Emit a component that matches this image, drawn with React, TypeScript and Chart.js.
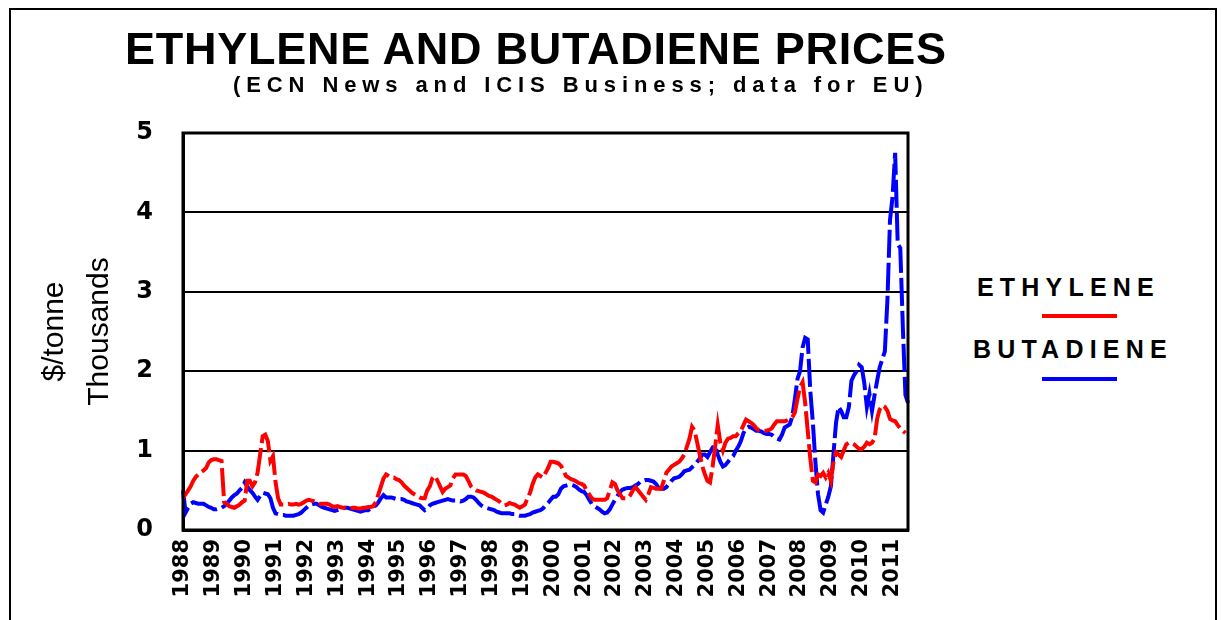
import React, { useEffect, useRef } from 'react';
import { Chart, registerables } from 'chart.js';

Chart.register(...registerables);

// Year tick labels (one per January)
const YEARS = [
  '1988', '1989', '1990', '1991', '1992', '1993', '1994', '1995', '1996', '1997', '1998', '1999',
  '2000', '2001', '2002', '2003', '2004', '2005', '2006', '2007', '2008', '2009', '2010', '2011',
];

// Monthly prices, $/tonne in thousands, Jan 1988 – Jul 2011
const ETHYLENE = [
  0.40, 0.45, 0.50, 0.55, 0.62, 0.67, 0.70, 0.73, 0.75, 0.78, 0.85, 0.88, // 1988
  0.89, 0.89, 0.88, 0.87, 0.35, 0.33, 0.30, 0.29, 0.28, 0.30, 0.32, 0.35, // 1989
  0.37, 0.62, 0.62, 0.55, 0.60, 0.72, 0.95, 1.18, 1.20, 1.12, 0.87, 0.93, // 1990
  0.60, 0.40, 0.32, 0.32, 0.32, 0.33, 0.32, 0.32, 0.33, 0.32, 0.33, 0.35, // 1991
  0.37, 0.38, 0.37, 0.36, 0.34, 0.33, 0.33, 0.33, 0.33, 0.32, 0.30, 0.29, // 1992
  0.30, 0.29, 0.28, 0.28, 0.27, 0.27, 0.28, 0.28, 0.27, 0.27, 0.28, 0.28, // 1993
  0.29, 0.29, 0.30, 0.35, 0.45, 0.55, 0.65, 0.70, 0.68, 0.66, 0.66, 0.64, // 1994
  0.63, 0.60, 0.56, 0.53, 0.50, 0.47, 0.45, 0.43, 0.41, 0.40, 0.40, 0.50, // 1995
  0.55, 0.65, 0.68, 0.62, 0.55, 0.48, 0.52, 0.54, 0.56, 0.65, 0.70, 0.70, // 1996
  0.70, 0.70, 0.68, 0.62, 0.55, 0.52, 0.50, 0.49, 0.48, 0.47, 0.45, 0.43, // 1997
  0.42, 0.40, 0.38, 0.36, 0.33, 0.31, 0.32, 0.34, 0.33, 0.32, 0.30, 0.28, // 1998
  0.30, 0.32, 0.40, 0.47, 0.58, 0.66, 0.70, 0.68, 0.66, 0.72, 0.78, 0.86, // 1999
  0.86, 0.85, 0.84, 0.81, 0.75, 0.68, 0.66, 0.64, 0.63, 0.61, 0.59, 0.58, // 2000
  0.56, 0.50, 0.45, 0.40, 0.38, 0.38, 0.38, 0.38, 0.38, 0.40, 0.50, 0.60, // 2001
  0.58, 0.50, 0.45, 0.40, 0.40, 0.40, 0.44, 0.50, 0.54, 0.50, 0.46, 0.42, // 2002
  0.38, 0.45, 0.54, 0.53, 0.52, 0.52, 0.52, 0.62, 0.72, 0.76, 0.80, 0.82, // 2003
  0.84, 0.86, 0.90, 0.95, 1.05, 1.15, 1.30, 1.25, 1.10, 0.95, 0.80, 0.70, // 2004
  0.62, 0.60, 0.80, 1.05, 1.32, 1.10, 1.00, 1.10, 1.15, 1.16, 1.18, 1.18, // 2005
  1.22, 1.25, 1.32, 1.39, 1.37, 1.35, 1.32, 1.28, 1.26, 1.26, 1.25, 1.25, // 2006
  1.26, 1.28, 1.33, 1.37, 1.37, 1.37, 1.37, 1.38, 1.40, 1.42, 1.48, 1.65, // 2007
  1.80, 1.86, 1.60, 1.25, 0.90, 0.62, 0.60, 0.70, 0.68, 0.72, 0.66, 0.72, // 2008
  0.62, 0.85, 0.98, 0.95, 0.92, 1.00, 1.08, 1.10, 1.10, 1.08, 1.05, 1.02, // 2009
  1.02, 1.05, 1.10, 1.08, 1.10, 1.15, 1.40, 1.52, 1.57, 1.55, 1.50, 1.40, // 2010
  1.38, 1.37, 1.32, 1.28, 1.25, 1.22, null, // 2011
];

const BUTADIENE = [
  0.50, 0.22, 0.28, 0.33, 0.35, 0.34, 0.33, 0.33, 0.33, 0.31, 0.29, 0.28, // 1988
  0.26, 0.26, 0.27, 0.28, 0.30, 0.33, 0.37, 0.41, 0.44, 0.46, 0.50, 0.53, // 1989
  0.60, 0.55, 0.50, 0.47, 0.42, 0.38, 0.43, 0.47, 0.46, 0.45, 0.40, 0.28, // 1990
  0.21, 0.20, 0.19, 0.19, 0.18, 0.18, 0.18, 0.18, 0.19, 0.20, 0.22, 0.25, // 1991
  0.28, 0.31, 0.32, 0.33, 0.33, 0.31, 0.29, 0.28, 0.27, 0.26, 0.25, 0.24, // 1992
  0.25, 0.26, 0.27, 0.28, 0.28, 0.27, 0.26, 0.25, 0.24, 0.23, 0.24, 0.25, // 1993
  0.25, 0.27, 0.29, 0.31, 0.35, 0.40, 0.44, 0.41, 0.41, 0.41, 0.40, 0.39, // 1994
  0.39, 0.39, 0.38, 0.36, 0.35, 0.34, 0.33, 0.32, 0.31, 0.28, 0.25, 0.27, // 1995
  0.31, 0.33, 0.34, 0.35, 0.36, 0.37, 0.38, 0.39, 0.38, 0.37, 0.37, 0.37, // 1996
  0.36, 0.37, 0.39, 0.42, 0.42, 0.41, 0.38, 0.34, 0.31, 0.29, 0.28, 0.27, // 1997
  0.26, 0.25, 0.23, 0.22, 0.21, 0.21, 0.21, 0.21, 0.20, 0.20, 0.19, 0.18, // 1998
  0.18, 0.18, 0.19, 0.20, 0.22, 0.23, 0.24, 0.25, 0.27, 0.31, 0.34, 0.38, // 1999
  0.42, 0.42, 0.45, 0.52, 0.55, 0.56, 0.57, 0.57, 0.56, 0.54, 0.51, 0.49, // 2000
  0.48, 0.44, 0.38, 0.33, 0.30, 0.28, 0.26, 0.23, 0.21, 0.22, 0.26, 0.32, // 2001
  0.38, 0.43, 0.48, 0.51, 0.52, 0.53, 0.53, 0.54, 0.56, 0.58, 0.61, 0.62, // 2002
  0.63, 0.63, 0.62, 0.61, 0.58, 0.53, 0.52, 0.52, 0.54, 0.58, 0.62, 0.65, // 2003
  0.66, 0.67, 0.70, 0.74, 0.75, 0.76, 0.79, 0.82, 0.86, 0.90, 0.95, 0.95, // 2004
  0.92, 0.98, 1.04, 1.06, 0.95, 0.86, 0.80, 0.82, 0.86, 0.90, 0.93, 1.00, // 2005
  1.05, 1.12, 1.22, 1.28, 1.30, 1.29, 1.27, 1.25, 1.25, 1.24, 1.22, 1.21, // 2006
  1.21, 1.20, 1.17, 1.15, 1.14, 1.20, 1.29, 1.31, 1.33, 1.43, 1.65, 1.90, // 2007
  2.00, 2.30, 2.42, 2.40, 1.75, 1.35, 0.85, 0.45, 0.25, 0.22, 0.32, 0.42, // 2008
  0.55, 0.95, 1.35, 1.55, 1.50, 1.42, 1.42, 1.55, 1.88, 1.95, 2.00, 2.08, // 2009
  2.05, 1.85, 1.55, 1.72, 1.50, 1.70, 1.88, 2.05, 2.15, 2.25, 2.90, 3.90, // 2010
  4.20, 4.75, 3.60, 3.55, 2.55, 1.70, 1.60, // 2011
];

const SERIES_NAMES = ['ETHYLENE', 'BUTADIENE'];
const SERIES_COLORS = ['#ff0000', '#0000ff'];
const TITLE = 'ETHYLENE AND BUTADIENE PRICES';
const SUBTITLE = '(ECN News and ICIS Business; data for EU)';
const Y_TITLE = ['$/tonne', 'Thousands'];

const MONTH_LABELS = ETHYLENE.map((_, i) => (i % 12 === 0 ? YEARS[i / 12] : ''));

const framePlugin = {
  id: 'plotFrame',
  afterDatasetsDraw(chart: any) {
    const { ctx, chartArea } = chart;
    const { left, top, right, bottom } = chartArea;
    ctx.save();
    ctx.strokeStyle = '#000';
    ctx.lineWidth = 3;
    ctx.strokeRect(left, top, right - left, bottom - top);
    ctx.restore();
  },
};

const zeroPadding = (scale: any) => {
  scale.paddingLeft = 0;
  scale.paddingRight = 0;
  scale.paddingTop = 0;
  scale.paddingBottom = 0;
};

export default function App() {
  const canvasRef = useRef<HTMLCanvasElement | null>(null);

  useEffect(() => {
    if (!canvasRef.current) return;
    const chart = new Chart(canvasRef.current, {
      type: 'line',
      data: {
        labels: MONTH_LABELS,
        datasets: [
          {
            label: SERIES_NAMES[0],
            data: ETHYLENE,
            borderColor: SERIES_COLORS[0],
            backgroundColor: SERIES_COLORS[0],
            borderWidth: 4,
            borderDash: [28, 5],
            pointRadius: 0,
            tension: 0,
            fill: false,
          },
          {
            label: SERIES_NAMES[1],
            data: BUTADIENE,
            borderColor: SERIES_COLORS[1],
            backgroundColor: SERIES_COLORS[1],
            borderWidth: 4,
            borderDash: [28, 5],
            pointRadius: 0,
            tension: 0,
            fill: false,
          },
        ],
      },
      options: {
        animation: false,
        responsive: false,
        maintainAspectRatio: false,
        layout: { padding: { top: 133, right: 22, left: 0, bottom: 0 } },
        plugins: {
          legend: { display: false },
          tooltip: { enabled: false },
          title: { display: false },
        },
        scales: {
          x: {
            type: 'category',
            offset: false,
            grid: { display: false, drawTicks: false },
            border: { display: true, color: '#000', width: 3 },
            ticks: {
              autoSkip: false,
              minRotation: 90,
              maxRotation: 90,
              padding: 9,
              color: '#000',
              font: { family: "'DejaVu Sans', sans-serif", weight: 'bold', size: 21 },
              callback: (_v: any, i: number) => MONTH_LABELS[i],
            },
            afterFit: (scale: any) => {
              scale.height = 90;
              zeroPadding(scale);
            },
          },
          y: {
            min: 0,
            max: 5,
            grid: { color: '#000', lineWidth: 2, drawTicks: false },
            border: { display: true, color: '#000', width: 3 },
            ticks: {
              stepSize: 1,
              padding: 30,
              color: '#000',
              font: { family: "'DejaVu Sans', sans-serif", weight: 'bold', size: 24 },
            },
            title: {
              display: true,
              text: Y_TITLE,
              color: '#000',
              padding: { top: 32, bottom: 0 },
              font: {
                family: "'Liberation Sans Narrow', 'Arial Narrow', 'Liberation Sans', sans-serif",
                size: 30,
                lineHeight: 1.5,
              },
            },
            afterFit: (scale: any) => {
              scale.width = 183;
              zeroPadding(scale);
            },
          },
        },
      },
      plugins: [framePlugin],
    } as any);
    return () => chart.destroy();
  }, []);

  const legendText: React.CSSProperties = {
    position: 'absolute',
    fontFamily: "'Liberation Sans', Arial, sans-serif",
    fontWeight: 'bold',
    fontSize: 25,
    lineHeight: '25px',
    letterSpacing: '6.2px',
    color: '#000',
    whiteSpace: 'nowrap',
  };

  return (
    <div
      style={{
        position: 'fixed',
        left: 0,
        top: 0,
        width: 1221,
        height: 620,
        background: '#fff',
        overflow: 'hidden',
      }}
    >
      <div
        style={{
          position: 'absolute',
          left: 9,
          top: 8,
          width: 1204,
          height: 700,
          border: '2px solid #000',
        }}
      />
      <canvas
        ref={canvasRef}
        width={930}
        height={620}
        style={{ position: 'absolute', left: 0, top: 0, width: 930, height: 620 }}
      />
      <div
        style={{
          position: 'absolute',
          left: 125,
          top: 26,
          fontFamily: "'Liberation Sans', Arial, sans-serif",
          fontWeight: 'bold',
          fontSize: 45,
          lineHeight: '45px',
          letterSpacing: '0.75px',
          whiteSpace: 'nowrap',
          color: '#000',
        }}
      >
        {TITLE}
      </div>
      <div
        style={{
          position: 'absolute',
          left: 233,
          top: 74,
          fontFamily: "'Liberation Sans', Arial, sans-serif",
          fontWeight: 'bold',
          fontSize: 22,
          lineHeight: '22px',
          letterSpacing: '5.9px',
          whiteSpace: 'nowrap',
          color: '#000',
        }}
      >
        {SUBTITLE}
      </div>
      <div style={{ ...legendText, left: 977, top: 275 }}>{SERIES_NAMES[0]}</div>
      <div
        style={{ position: 'absolute', left: 1042, top: 314, width: 75, height: 4, background: SERIES_COLORS[0] }}
      />
      <div style={{ ...legendText, left: 973, top: 337 }}>{SERIES_NAMES[1]}</div>
      <div
        style={{ position: 'absolute', left: 1042, top: 377, width: 75, height: 4, background: SERIES_COLORS[1] }}
      />
    </div>
  );
}
